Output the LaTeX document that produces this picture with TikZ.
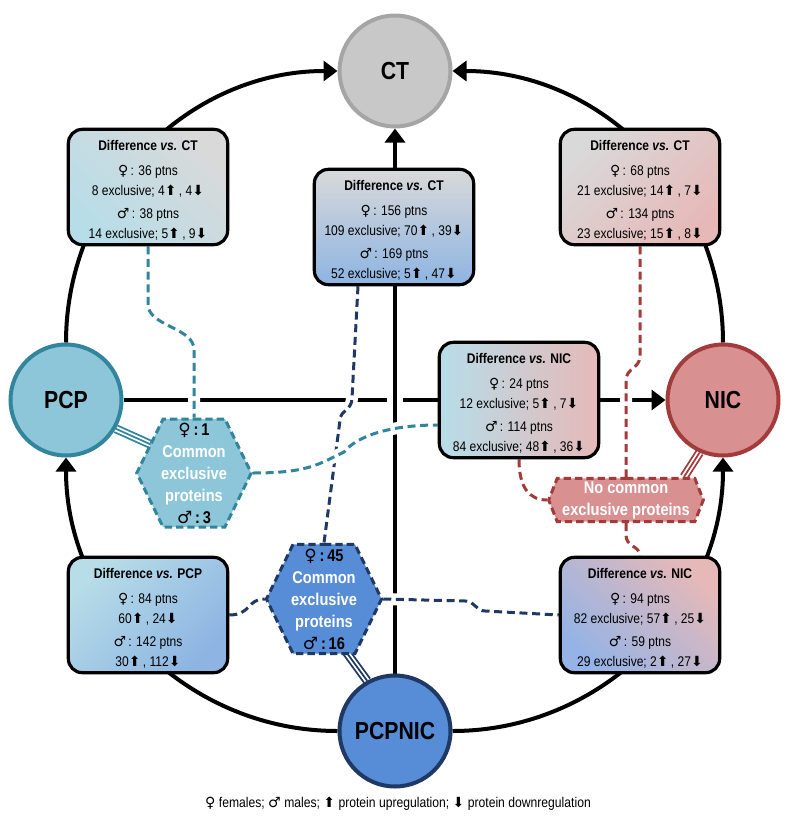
\documentclass[tikz,border=0pt]{standalone}
\usepackage{fontspec}
\setmainfont[FakeStretch=0.86]{Liberation Sans}
\newfontfamily\symfont{DejaVu Sans}
\usetikzlibrary{shapes.symbols,arrows.meta,calc}
\pgfdeclarelayer{background}
\pgfsetlayers{background,main}
\definecolor{tealc}{HTML}{31859C}
\definecolor{tealfill}{HTML}{8DC6D9}
\definecolor{navyc}{HTML}{1F3864}
\definecolor{navyfill}{HTML}{578CD6}
\definecolor{redc}{HTML}{A33B3B}
\definecolor{redfill}{HTML}{D99090}
\definecolor{ctfill}{HTML}{C8C8C8}
\definecolor{ctline}{HTML}{A5A5A5}
\definecolor{boxgray}{HTML}{D9D9D9}
\definecolor{boxteal}{HTML}{B7DDE8}
\definecolor{boxblue}{HTML}{8DB4E2}
\definecolor{boxpink}{HTML}{E6B9B8}
\definecolor{boxblueb}{HTML}{95B3E6}
\newcommand\fem{{\symfont\bfseries ♀}}
\newcommand\mal{{\symfont\bfseries ♂}}
\newcommand\upa{{\symfont\fontsize{10.5pt}{10.5pt}\selectfont ⬆}}
\newcommand\dna{{\symfont\fontsize{10.5pt}{10.5pt}\selectfont ⬇}}
\newcommand\boxtext[5]{\rule{0pt}{12pt}\textbf{Difference \textit{vs.} #1}\\[3.75pt] #2\\ #3\\[2.25pt] #4\\ #5}
\tikzset{
 circ/.style={circle, minimum size=83.25pt, line width=3pt, inner sep=0pt,
   font=\fontsize{18.5pt}{18.5pt}\selectfont\bfseries},
 dbox/.style={draw=black, line width=2.4pt, rounded corners=10.5pt, minimum width=119.5pt,
   minimum height=86.5pt, align=center, inner sep=0pt, font=\fontsize{10.5pt}{15pt}\selectfont},
 hexa/.style={signal, signal to=east and west, line width=2.25pt, dash pattern=on 5.5pt off 3pt,
   inner ysep=0pt, inner xsep=-1.5pt, align=center, font=\fontsize{12.75pt}{16.5pt}\selectfont\bfseries},
 mainline/.style={line width=3pt, -{Triangle[length=10.5pt,width=15pt]}},
 dcon/.style={line width=2.25pt, dash pattern=on 6pt off 3.5pt,
   preaction={draw=white, line width=9pt, solid}},
 triple/.style={line width=6.75pt, postaction={draw=white, line width=4pt},
   postaction={draw, line width=1.3pt}},
}
\begin{document}
\begin{tikzpicture}[x=0.75pt, y=-0.75pt]
\useasboundingbox (0,0) rectangle (791,829);
% circles
\node[circ, draw=ctline, fill=ctfill] (CT) at (395,71) {CT};
\node[circ, draw=tealc, fill=tealfill] (PCP) at (66,400) {PCP};
\node[circ, draw=redc, fill=redfill] (NIC) at (723,400) {NIC};
\node[circ, draw=navyc, fill=navyfill] (PCPNIC) at (395,731) {PCPNIC};
% boxes
\node[dbox, top color=boxgray, bottom color=boxteal, shading angle=-45] (TL) at (148,187)
  {\boxtext{CT}{\fem\,: 36 ptns}{8 exclusive; 4\upa\,, 4\dna}{\mal\,: 38 ptns}{14 exclusive; 5\upa\,, 9\dna}};
\node[dbox, top color=boxgray, bottom color=boxblue] (TC) at (394,227)
  {\boxtext{CT}{\fem\,: 156 ptns}{109 exclusive; 70\upa\,, 39\dna}{\mal\,: 169 ptns}{52 exclusive; 5\upa\,, 47\dna}};
\node[dbox, top color=boxgray, bottom color=boxpink, shading angle=45] (TR) at (640,187)
  {\boxtext{CT}{\fem\,: 68 ptns}{21 exclusive; 14\upa\,, 7\dna}{\mal\,: 134 ptns}{23 exclusive; 15\upa\,, 8\dna}};
\node[dbox, top color=boxteal, bottom color=boxpink, shading angle=90] (MID) at (519,400)
  {\boxtext{NIC}{\fem\,: 24 ptns}{12 exclusive; 5\upa\,, 7\dna}{\mal\,: 114 ptns}{84 exclusive; 48\upa\,, 36\dna}};
\node[dbox, top color=boxteal, bottom color=boxblue, shading angle=45] (BL) at (148,615)
  {\boxtext{PCP}{\fem\,: 84 ptns}{60\upa\,, 24\dna}{\mal\,: 142 ptns}{30\upa\,, 112\dna}};
\node[dbox, top color=boxpink, bottom color=boxblueb, shading angle=-45] (BR) at (640,615)
  {\boxtext{NIC}{\fem\,: 94 ptns}{82 exclusive; 57\upa\,, 25\dna}{\mal\,: 59 ptns}{29 exclusive; 2\upa\,, 27\dna}};
% hexagons
\node[hexa, draw=tealc, fill=tealfill, signal pointer angle=128, minimum height=81pt]
  (hexL) at (194,473) {\fem\,:\,1\\ \color{white}Common\\ \color{white}exclusive\\ \color{white}proteins\\ \mal\,:\,3};
\node[hexa, draw=navyc, fill=navyfill, signal pointer angle=128, minimum height=82pt]
  (hexB) at (324,599) {\fem\,:\,45\\ \color{white}Common\\ \color{white}exclusive\\ \color{white}proteins\\ \mal\,:\,16};
\node[hexa, draw=redc, fill=redfill, signal pointer angle=137, inner xsep=0pt, minimum width=116pt, minimum height=32.5pt]
  (redhex) at (626,500) {\color{white}No common\\ \color{white}exclusive proteins};
% legend
\node[font=\fontsize{10.6pt}{12pt}\selectfont] (legend) at (398,804)
  {\fem\ females; \mal\ males; \upa\ protein upregulation; \dna\ protein downregulation};
\begin{pgfonlayer}{background}
\draw[mainline] (PCP.east) -- (NIC.west);
\draw[mainline, preaction={draw=white, line width=12pt, arrows=-}] (PCPNIC.north) -- (CT.south);
\draw[mainline] (PCP.north) .. controls +(0,-150) and +(-150,0) .. (CT.west);
\draw[mainline] (NIC.north) .. controls +(0,-150) and +(150,0) .. (CT.east);
\draw[mainline] (PCPNIC.west) .. controls +(-150,0) and +(0,150) .. (PCP.south);
\draw[mainline] (PCPNIC.east) .. controls +(150,0) and +(0,150) .. (NIC.south);
% triple links
\draw[triple, draw=tealc] (PCP.-30) -- ($(hexL.center)+(-42,-28)$);
\draw[triple, draw=redc] (NIC.-114) -- ($(redhex.north)+(58,0)$);
\draw[triple, draw=navyc] (PCPNIC.119) -- ($(hexB.center)+(20,50)$);
% dashed connectors
\draw[dcon, draw=tealc] (TL.south) -- ++(0,58) .. controls +(0,22) and +(0,-22) .. ($(hexL.north)+(0,-68)$) -- (hexL.north);
\draw[dcon, draw=navyc] ($(TC.south)+(-36,0)$) -- ++(-6,112) .. controls +(0,12) and +(0,-10) .. ++(-12,22) -- (hexB.north);
\draw[dcon, draw=tealc] (hexL.east) .. controls +(55,0) and +(-25,12) .. (344,452) .. controls +(12,-15) and +(-50,0) .. ($(MID.west)+(0,25)$);
\draw[dcon, draw=navyc] (BL.east) .. controls +(22,0) and +(-18,0) .. (hexB.west);
\draw[dcon, draw=navyc] (hexB.east) -- ++(82,2) .. controls +(10,0) and +(-10,0) .. ++(20,10) -- (BR.west);
\draw[dcon, draw=redc] (TR.south) -- ++(0,110) .. controls +(0,12) and +(0,-12) .. ++(-14,24) -- (redhex.north);
\draw[dcon, draw=redc] (redhex.south) -- ++(0,12) .. controls +(0,12) and +(0,-10) .. (BR.north);
\draw[dcon, draw=redc] (MID.south) .. controls +(0,28) and +(-18,0) .. (redhex.west);
\end{pgfonlayer}
\end{tikzpicture}
\end{document}
